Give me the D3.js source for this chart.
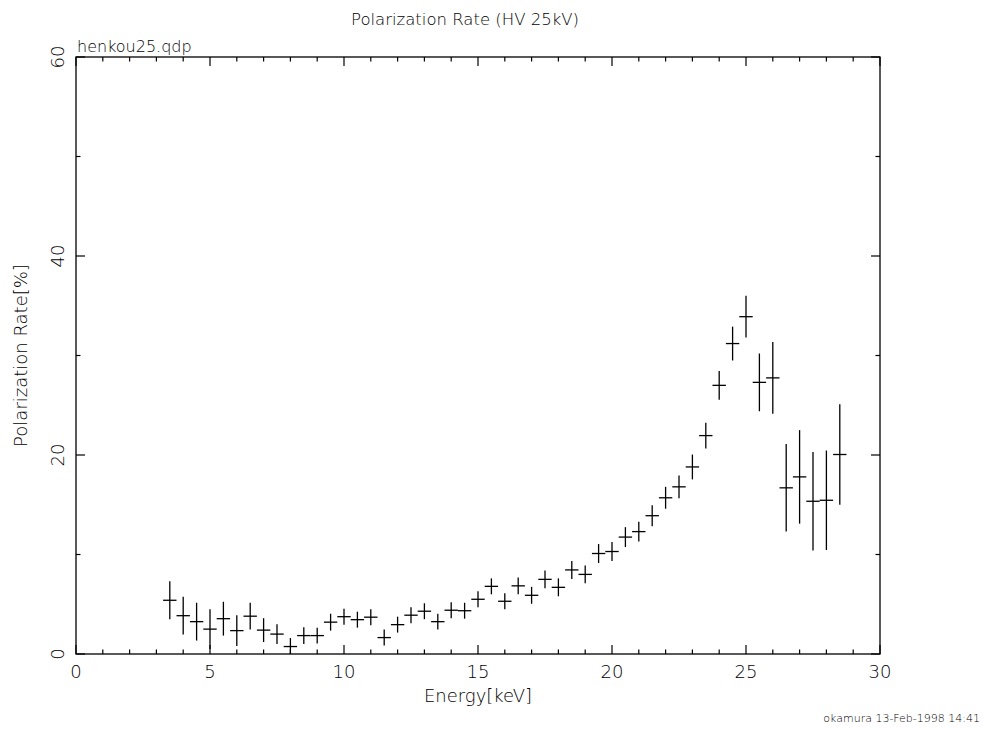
<!DOCTYPE html>
<html>
<head>
<meta charset="utf-8">
<script src="https://cdn.jsdelivr.net/npm/d3@7"></script>
<style>
  html, body { margin: 0; padding: 0; background: #fff; }
  svg { display: block; }
  text { font-family: "DejaVu Sans", "Liberation Sans", sans-serif; font-weight: 200; fill: #000; }
</style>
</head>
<body>
<svg id="chart" width="983" height="729"></svg>
<script>
// ---- data ----
const energy = [3.5, 4.0, 4.5, 5.0, 5.5, 6.0, 6.5, 7.0, 7.5, 8.0, 8.5, 9.0, 9.5, 10.0, 10.5, 11.0, 11.5, 12.0, 12.5, 13.0,
  13.5, 14.0, 14.5, 15.0, 15.5, 16.0, 16.5, 17.0, 17.5, 18.0, 18.5, 19.0, 19.5, 20.0, 20.5, 21.0, 21.5, 22.0, 22.5, 23.0,
  23.5, 24.0, 24.5, 25.0, 25.5, 26.0, 26.5, 27.0, 27.5, 28.0, 28.5];
const rate = [5.4, 3.85, 3.25, 2.5, 3.55, 2.35, 3.8, 2.4, 2.0, 0.75, 1.85, 1.85, 3.2, 3.75, 3.45, 3.7, 1.65, 2.95, 3.9, 4.3,
  3.25, 4.4, 4.35, 5.5, 6.8, 5.3, 6.85, 5.9, 7.5, 6.7, 8.45, 8.0, 10.1, 10.3, 11.75, 12.3, 13.9, 15.7, 16.8, 18.8,
  21.95, 27.0, 31.2, 33.9, 27.3, 27.75, 16.7, 17.8, 15.35, 15.45, 20.05];
const rateErr = [1.9, 1.9, 1.9, 2.0, 1.7, 1.55, 1.35, 1.2, 1.0, 0.85, 0.85, 0.8, 0.85, 0.8, 0.8, 0.8, 0.8, 0.8, 0.8, 0.8,
  0.8, 0.8, 0.8, 0.8, 0.8, 0.8, 0.85, 0.85, 0.9, 0.9, 0.9, 0.9, 0.95, 0.95, 1.0, 1.0, 1.05, 1.1, 1.15, 1.25,
  1.3, 1.45, 1.7, 2.1, 2.9, 3.6, 4.4, 4.7, 4.95, 5.0, 5.05];
const energyHalfWidth = 0.25;
const xTicks = [0, 5, 10, 15, 20, 25, 30];
const yTicks = [0, 20, 40, 60];

const titleText = "Polarization Rate (HV 25kV)";
const fileText = "henkou25.qdp";
const xLabel = "Energy[keV]";
const yLabel = "Polarization Rate[%]";
const footerText = "okamura 13-Feb-1998 14:41";

// ---- layout ----
const L = 76, R = 880, T = 57, B = 654;
const svg = d3.select("#chart");
const x = d3.scaleLinear().domain([0, 30]).range([L, R]);
const y = d3.scaleLinear().domain([0, 60]).range([B, T]);

const majorLen = 9, minorLen = 4.5;
const g = svg.append("g");

// frame
g.append("rect").attr("x", L).attr("y", T).attr("width", R - L).attr("height", B - T)
  .attr("fill", "none").attr("stroke", "#000").attr("stroke-width", 1.3);

// ticks (inward, all four sides)
const xMinor = d3.range(0, 31, 1);
const yMinor = d3.range(0, 61, 10);
xMinor.forEach(v => {
  const len = (v % 5 === 0) ? majorLen : minorLen;
  g.append("line").attr("x1", x(v)).attr("x2", x(v)).attr("y1", B).attr("y2", B - len).attr("stroke", "#000").attr("stroke-width", 1.2);
  g.append("line").attr("x1", x(v)).attr("x2", x(v)).attr("y1", T).attr("y2", T + len).attr("stroke", "#000").attr("stroke-width", 1.2);
});
yMinor.forEach(v => {
  const len = (v % 20 === 0) ? majorLen : minorLen;
  g.append("line").attr("y1", y(v)).attr("y2", y(v)).attr("x1", L).attr("x2", L + len).attr("stroke", "#000").attr("stroke-width", 1.2);
  g.append("line").attr("y1", y(v)).attr("y2", y(v)).attr("x1", R).attr("x2", R - len).attr("stroke", "#000").attr("stroke-width", 1.2);
});

// tick labels
xTicks.forEach(v => {
  g.append("text").attr("x", x(v)).attr("y", B + 24).attr("text-anchor", "middle")
    .attr("font-size", 18).text(v);
});
yTicks.forEach(v => {
  g.append("text").attr("transform", `translate(${L - 12},${y(v)}) rotate(-90)`)
    .attr("text-anchor", "middle").attr("font-size", 18).text(v);
});

// labels
svg.append("text").attr("x", 465).attr("y", 25).attr("text-anchor", "middle").attr("font-size", 16.5).text(titleText);
svg.append("text").attr("x", L + 1).attr("y", 52).attr("font-size", 16).text(fileText);
svg.append("text").attr("x", (L + R) / 2).attr("y", 702).attr("text-anchor", "middle").attr("font-size", 18).text(xLabel);
svg.append("text").attr("transform", `translate(27,${(T + B) / 2}) rotate(-90)`).attr("text-anchor", "middle")
  .attr("font-size", 18).text(yLabel);
svg.append("text").attr("x", 980).attr("y", 722).attr("text-anchor", "end").attr("font-size", 11).text(footerText);

// data crosses
const pts = energy.map((e, i) => ({ e, r: rate[i], s: rateErr[i] }));
const pg = svg.append("g").attr("stroke", "#000").attr("stroke-width", 1.3);
pg.selectAll("line.h").data(pts).join("line").attr("class", "h")
  .attr("x1", d => x(d.e - energyHalfWidth)).attr("x2", d => x(d.e + energyHalfWidth))
  .attr("y1", d => y(d.r)).attr("y2", d => y(d.r));
pg.selectAll("line.v").data(pts).join("line").attr("class", "v")
  .attr("x1", d => x(d.e)).attr("x2", d => x(d.e))
  .attr("y1", d => y(Math.max(0, d.r - d.s))).attr("y2", d => y(d.r + d.s));
</script>
</body>
</html>
